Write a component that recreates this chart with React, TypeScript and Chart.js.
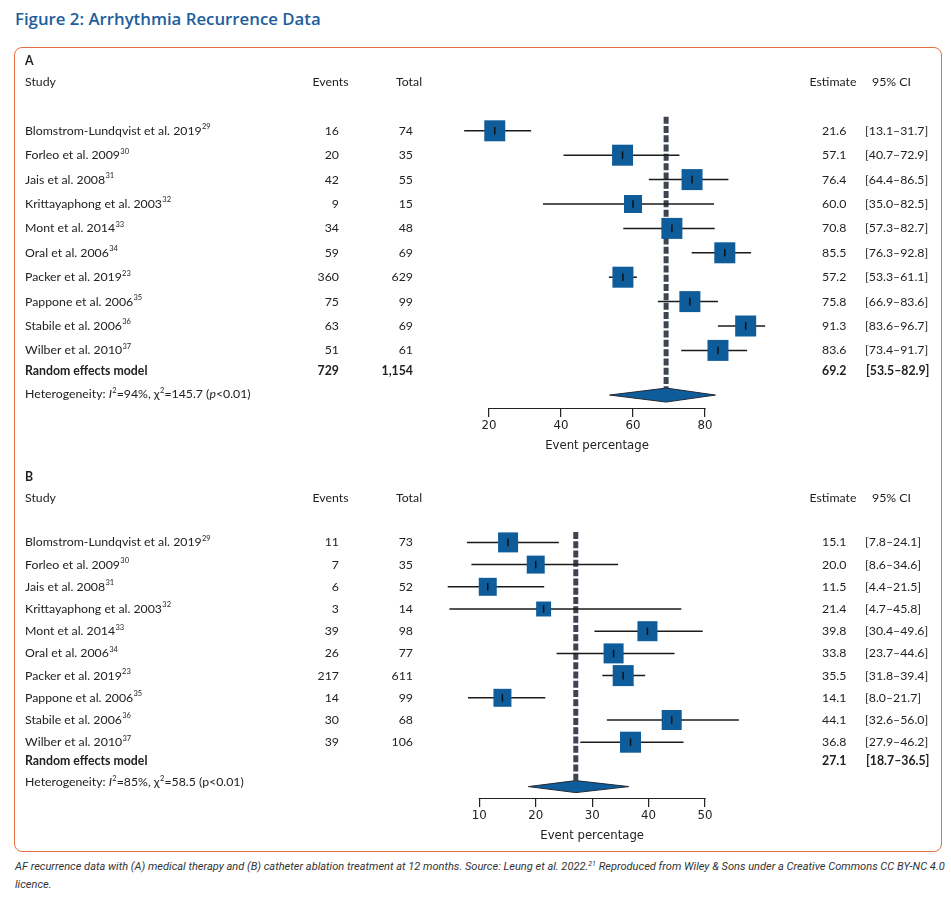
import { useEffect, useRef } from "react";
import { Chart, registerables } from "chart.js";

Chart.register(...registerables);

// ---------- data ----------
const studies = [
  "Blomstrom-Lundqvist et al. 2019",
  "Forleo et al. 2009",
  "Jais et al. 2008",
  "Krittayaphong et al. 2003",
  "Mont et al. 2014",
  "Oral et al. 2006",
  "Packer et al. 2019",
  "Pappone et al. 2006",
  "Stabile et al. 2006",
  "Wilber et al. 2010",
];
const refs = ["29", "30", "31", "32", "33", "34", "23", "35", "36", "37"];

// Panel A: medical therapy
const eventsA = [16, 20, 42, 9, 34, 59, 360, 75, 63, 51];
const totalA = [74, 35, 55, 15, 48, 69, 629, 99, 69, 61];
const estA = [21.6, 57.1, 76.4, 60.0, 70.8, 85.5, 57.2, 75.8, 91.3, 83.6];
const loA = [13.1, 40.7, 64.4, 35.0, 57.3, 76.3, 53.3, 66.9, 83.6, 73.4];
const hiA = [31.7, 72.9, 86.5, 82.5, 82.7, 92.8, 61.1, 83.6, 96.7, 91.7];
const weightA = [10.3, 10.3, 10.3, 7.6, 10.3, 10.3, 10.3, 10.3, 10.3, 10.3];
const summaryA = [69.2, 53.5, 82.9];
const summaryCountsA = ["729", "1,154"];
const ticksA = [20, 40, 60, 80];

// Panel B: catheter ablation
const eventsB = [11, 7, 6, 3, 39, 26, 217, 14, 30, 39];
const totalB = [73, 35, 52, 14, 98, 77, 611, 99, 68, 106];
const estB = [15.1, 20.0, 11.5, 21.4, 39.8, 33.8, 35.5, 14.1, 44.1, 36.8];
const loB = [7.8, 8.6, 4.4, 4.7, 30.4, 23.7, 31.8, 8.0, 32.6, 27.9];
const hiB = [24.1, 34.6, 21.5, 45.8, 49.6, 44.6, 39.4, 21.7, 56.0, 46.2];
const weightB = [10.9, 8.8, 8.8, 6.1, 10.9, 10.9, 12.0, 8.8, 10.9, 12.0];
const summaryB = [27.1, 18.7, 36.5];
const summaryCountsB = ["", ""];
const ticksB = [10, 20, 30, 40, 50];

type Run = { t: string; italic?: boolean; bold?: boolean; sup?: boolean };
const heteroA: Run[] = [
  { t: "Heterogeneity: " }, { t: "I", italic: true }, { t: "2", sup: true },
  { t: "=94%, \u03c7" }, { t: "2", sup: true }, { t: "=145.7 (" }, { t: "p", italic: true }, { t: "<0.01)" },
];
const heteroB: Run[] = [
  { t: "Heterogeneity: " }, { t: "I", italic: true }, { t: "2", sup: true },
  { t: "=85%, \u03c7" }, { t: "2", sup: true }, { t: "=58.5 (p<0.01)" },
];

// ---------- layout / style ----------
const W = 951;
const TEXT = "#222";
const BLUE = "#0f5c9b";
const FONT = "Lato, 'Noto Sans', sans-serif";
const FS = 12.3;
const AXIS_H = 45;
const SUMMARY_ROW = 11.84;
const HET_ROW = 12.8;
const COL = { study: 25, eventsR: 339, totalR: 413, est: 822, ci: 865, hEvents: 312.5, hTotal: 396, hEst: 809.5, hCi: 872 };

type Panel = {
  label: string; events: number[]; totals: number[]; est: number[]; lo: number[]; hi: number[]; weights: number[];
  summary: number[]; counts: string[]; ticks: number[]; hetero: Run[];
  top: number; height: number; headerY: number; rowH: number; axisY: number; xLeft: number; xRight: number;
  viewMin: number; viewMax: number;
  labelRow: number; dashTop: number; diamondRow: number; diamondHalf: number;
};

const panelA: Panel = {
  label: "A", events: eventsA, totals: totalA, est: estA, lo: loA, hi: hiA, weights: weightA,
  summary: summaryA, counts: summaryCountsA, ticks: ticksA, hetero: heteroA,
  top: 50, height: 410, headerY: 82, rowH: 24.4, axisY: 408, xLeft: 489, xRight: 705,
  viewMin: 0, viewMax: 100,
  labelRow: -0.84, dashTop: 1.42, diamondRow: 12.83, diamondHalf: 7,
};
const panelB: Panel = {
  label: "B", events: eventsB, totals: totalB, est: estB, lo: loB, hi: hiB, weights: weightB,
  summary: summaryB, counts: summaryCountsB, ticks: ticksB, hetero: heteroB,
  top: 466, height: 384, headerY: 498, rowH: 22.2, axisY: 798, xLeft: 479.3, xRight: 705,
  viewMin: 0, viewMax: 60,
  labelRow: -0.95, dashTop: 1.53, diamondRow: 13.0, diamondHalf: 6,
};

function font(size: number, bold = false, italic = false) {
  return `${italic ? "italic " : ""}${bold ? "bold " : ""}${size}px ${FONT}`;
}

function drawRuns(ctx: CanvasRenderingContext2D, runs: Run[], x: number, y: number, bold = false) {
  let cx = x;
  for (const r of runs) {
    if (r.sup) {
      ctx.font = font(7.5, bold || r.bold, r.italic);
      ctx.fillText(r.t, cx + 0.3, y - 4);
      cx += ctx.measureText(r.t).width + 0.3;
    } else {
      ctx.font = font(FS, bold || r.bold, r.italic);
      ctx.fillText(r.t, cx, y);
      cx += ctx.measureText(r.t).width;
    }
  }
}

function makeTextPlugin(p: Panel) {
  return {
    id: "forestText" + p.label,
    afterDraw(chart: any) {
      const ctx: CanvasRenderingContext2D = chart.ctx;
      const ys = chart.scales.y;
      const xs = chart.scales.x;
      const Y = (r: number) => ys.getPixelForValue(r);
      ctx.save();
      // axis baseline spanning the tick range only
      ctx.strokeStyle = "#222";
      ctx.lineWidth = 1.2;
      ctx.beginPath();
      const by = xs.top + 0.5;
      ctx.moveTo(xs.getPixelForValue(p.ticks[0]) - 0.6, by);
      ctx.lineTo(xs.getPixelForValue(p.ticks[p.ticks.length - 1]) + 0.6, by);
      ctx.stroke();

      ctx.fillStyle = TEXT;
      ctx.textBaseline = "middle";
      ctx.textAlign = "left";
      ctx.font = font(FS, true);
      ctx.fillText(p.label, COL.study, Y(p.labelRow));
      ctx.font = font(FS);
      const hy = Y(0);
      ctx.fillText("Study", COL.study, hy);
      ctx.fillText("Events", COL.hEvents, hy);
      ctx.fillText("Total", COL.hTotal, hy);
      ctx.fillText("Estimate", COL.hEst, hy);
      ctx.fillText("95% CI", COL.hCi, hy);
      studies.forEach((s, i) => {
        const yy = Y(i + 2);
        ctx.textAlign = "left";
        drawRuns(ctx, [{ t: s }, { t: refs[i], sup: true }], COL.study, yy);
        ctx.font = font(FS);
        ctx.textAlign = "right";
        ctx.fillText(String(p.events[i]), COL.eventsR, yy);
        ctx.fillText(String(p.totals[i]), COL.totalR, yy);
        ctx.textAlign = "left";
        ctx.fillText(p.est[i].toFixed(1), COL.est, yy);
        ctx.fillText(`[${p.lo[i].toFixed(1)}\u2013${p.hi[i].toFixed(1)}]`, COL.ci, yy);
      });
      const sy = Y(SUMMARY_ROW);
      ctx.font = font(FS, true);
      ctx.textAlign = "left";
      ctx.fillText("Random effects model", COL.study, sy);
      ctx.textAlign = "right";
      ctx.fillText(p.counts[0], COL.eventsR, sy);
      ctx.fillText(p.counts[1], COL.totalR, sy);
      ctx.textAlign = "left";
      ctx.fillText(p.summary[0].toFixed(1), COL.est, sy);
      ctx.fillText(`[${p.summary[1].toFixed(1)}\u2013${p.summary[2].toFixed(1)}]`, COL.ci + 1, sy);
      drawRuns(ctx, p.hetero, COL.study, Y(HET_ROW));
      ctx.restore();
    },
  };
}

function makeChart(canvas: HTMLCanvasElement, p: Panel) {
  const axisRow = (p.axisY - p.headerY) / p.rowH;
  const padTop = p.headerY - p.rowH - p.top;
  const padBottom = p.height - (p.axisY - p.top) - AXIS_H;
  const t0 = p.ticks[0];
  const t1 = p.ticks[p.ticks.length - 1];
  const pxPer = (p.xRight - p.xLeft) / (t1 - t0);
  const leftPx = p.xLeft - (t0 - p.viewMin) * pxPer;
  const rightPx = p.xRight + (p.viewMax - t1) * pxPer;
  const dh = p.diamondHalf / p.rowH;
  const maxW = Math.max(...p.weights);
  const sides = p.weights.map((w) => 21 * Math.sqrt(w / maxW));
  const pts = p.est.map((e, i) => ({ x: e, y: i + 2 }));
  const [est, lo, hi] = p.summary;
  const dr = p.diamondRow;

  const datasets: any[] = [];
  datasets.push({
    type: "line",
    data: [{ x: est, y: p.dashTop }, { x: est, y: dr - dh }],
    borderColor: "#3e4451", borderWidth: 5, borderDash: [7, 2.3], pointRadius: 0, clip: false, order: 10,
  });
  p.lo.forEach((l, i) => {
    datasets.push({
      type: "line",
      data: [{ x: l, y: i + 2 }, { x: p.hi[i], y: i + 2 }],
      borderColor: "#1b1b1b", borderWidth: 1.5, pointRadius: 0, clip: false, order: 8,
    });
  });
  datasets.push({
    type: "scatter", data: pts, pointStyle: "rect", pointRadius: sides.map((s) => s / Math.SQRT2),
    pointBackgroundColor: BLUE, backgroundColor: BLUE, pointBorderWidth: 0, borderWidth: 0, clip: false, order: 6,
  });
  datasets.push({
    type: "scatter", data: pts, pointStyle: "line", pointRotation: 90, pointRadius: 3.8,
    pointBorderColor: "#111", borderColor: "#111", pointBorderWidth: 1.5, clip: false, order: 4,
  });
  datasets.push({
    type: "line",
    data: [{ x: lo, y: dr }, { x: est, y: dr - dh }, { x: hi, y: dr }, { x: est, y: dr + dh }, { x: lo, y: dr }],
    fill: "shape", backgroundColor: BLUE, borderColor: "#1e2a38", borderWidth: 1, pointRadius: 0,
    tension: 0, clip: false, order: 2,
  });

  return new Chart(canvas, {
    type: "scatter",
    data: { datasets },
    plugins: [makeTextPlugin(p)],
    options: {
      animation: false,
      responsive: false,
      maintainAspectRatio: false,
      events: [],
      layout: { autoPadding: false, padding: { left: leftPx, right: W - rightPx, top: padTop, bottom: padBottom } },
      plugins: { legend: { display: false }, tooltip: { enabled: false } },
      scales: {
        x: {
          type: "linear",
          min: p.viewMin,
          max: p.viewMax,
          afterBuildTicks: (s: any) => { s.ticks = p.ticks.map((v) => ({ value: v })); },
          afterFit: (s: any) => { s.height = AXIS_H; },
          grid: { drawOnChartArea: false, drawTicks: true, tickLength: 9, color: "#222", lineWidth: 1.2 },
          border: { display: false },
          ticks: { color: "#222", font: { family: "'DejaVu Sans'", size: 11.8 }, padding: 2, maxRotation: 0, autoSkip: false },
          title: { display: true, text: "Event percentage", color: "#222", font: { family: "'DejaVu Sans'", size: 11.7 }, padding: { top: 0, bottom: 0 } },
        },
        y: { type: "linear", display: false, reverse: true, min: -1, max: axisRow },
      },
    } as any,
  });
}

export default function App() {
  const refA = useRef<HTMLCanvasElement>(null);
  const refB = useRef<HTMLCanvasElement>(null);
  useEffect(() => {
    const charts = [makeChart(refA.current!, panelA), makeChart(refB.current!, panelB)];
    return () => charts.forEach((c) => c.destroy());
  }, []);
  return (
    <div style={{ position: "absolute", left: 0, top: 0, width: W, height: 899, background: "#fff", overflow: "hidden" }}>
      <div style={{ position: "absolute", left: 15, top: 9, font: `600 16.8px 'Open Sans', sans-serif`, color: "#1c5e9c", lineHeight: "20px", whiteSpace: "nowrap" }}>
        Figure 2: Arrhythmia Recurrence Data
      </div>
      <div style={{ position: "absolute", left: 14, top: 47, width: 928, height: 805, border: "1px solid #e4703f", borderRadius: 8, boxSizing: "border-box" }} />
      <canvas ref={refA} width={W} height={panelA.height} style={{ position: "absolute", left: 0, top: panelA.top }} />
      <canvas ref={refB} width={W} height={panelB.height} style={{ position: "absolute", left: 0, top: panelB.top }} />
      <div style={{ position: "absolute", left: 15, top: 858, font: `italic 11.05px Roboto, sans-serif`, color: "#333", lineHeight: "18px", whiteSpace: "nowrap" }}>
        AF recurrence data with (A) medical therapy and (B) catheter ablation treatment at 12 months. Source: Leung et al. 2022.<sup style={{ fontSize: 7, verticalAlign: "4px", lineHeight: 0 }}>21</sup> Reproduced from Wiley &amp; Sons under a Creative Commons CC BY-NC 4.0
        <br />
        licence.
      </div>
    </div>
  );
}
